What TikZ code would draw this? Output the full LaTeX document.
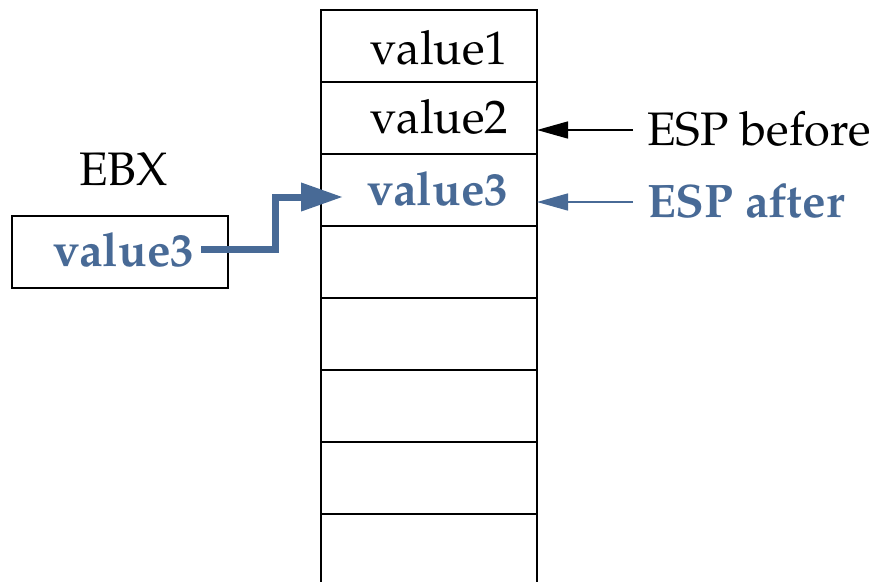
\documentclass[tikz,border=0pt]{standalone}
\usepackage[T1]{fontenc}
\renewcommand{\rmdefault}{ppl}
\usetikzlibrary{arrows.meta}
\definecolor{stackblue}{RGB}{72,106,150}
\begin{document}
\begin{tikzpicture}[x=1pt,y=-1pt,
  cell/.style={draw,line width=2pt,minimum width=216pt,minimum height=72pt,inner sep=0pt,outer sep=0pt,anchor=north west},
  txt/.style={inner sep=0pt,anchor=base west,font=\fontsize{47}{56}\selectfont},
  btxt/.style={inner sep=0pt,anchor=base west,font=\fontsize{47}{56}\selectfont\bfseries,text=stackblue},
  thinarrow/.style={line width=1.5pt,-{Triangle[length=31pt,width=17pt]}},
  movearrow/.style={line width=7pt,stackblue,line join=miter,-{Triangle[length=42pt,width=27pt]}}]
\useasboundingbox (0,0) rectangle (877,581);
% stack cells
\node[cell] (c1) at (321,10) {};
\node[cell] (c2) at (321,82) {};
\node[cell] (c3) at (321,154) {};
\node[cell] (c4) at (321,226) {};
\node[cell] (c5) at (321,298) {};
\node[cell] (c6) at (321,370) {};
\node[cell] (c7) at (321,442) {};
\coordinate (bl) at (321,584);
\coordinate (br) at (537,584);
\draw[line width=2pt] (c7.south west) -- (bl);
\draw[line width=2pt] (c7.south east) -- (br);
% stack texts
\node[txt] (v1) at (370,64) {value1};
\node[txt] (v2) at (370,133) {value2};
\node[btxt] (v3) at (367,205) {value3};
% EBX register
\node[txt] (ebx) at (79,185) {EBX};
\node[cell] (ebxbox) at (12,216) {};
\node[btxt] (ebxv) at (53,266) {value3};
% ESP labels
\node[txt] (espb) at (647,145) {ESP before};
\node[btxt] (espa) at (647,217) {ESP after};
% arrows
\coordinate (tipin) at (343,197);
\draw[movearrow] ([xshift=7pt]ebxv.east) -- ++(74,0) |- (tipin);
\coordinate (pb) at (633,130);
\coordinate (pa) at (633,202);
\draw[thinarrow] (pb) -- (pb -| c2.east);
\draw[thinarrow,stackblue] (pa) -- (pa -| c3.east);
\end{tikzpicture}
\end{document}
